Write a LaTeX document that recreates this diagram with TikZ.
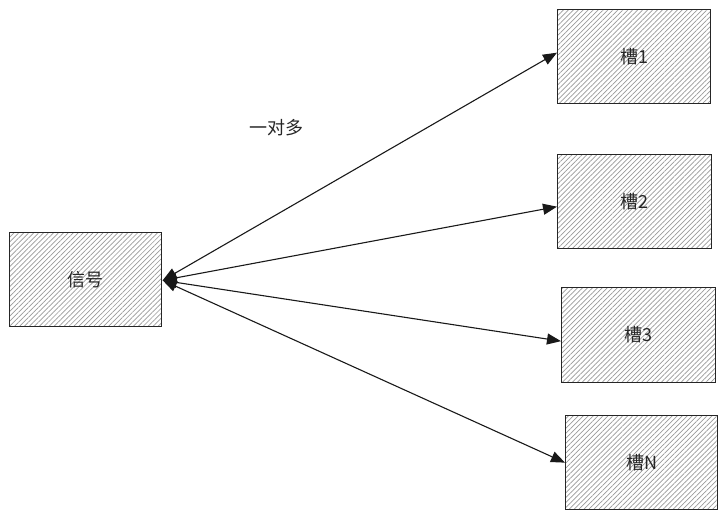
\documentclass[tikz,border=0pt]{standalone}
\usepackage{fontspec}
\newfontfamily\cjk{Noto Sans CJK SC}
\usetikzlibrary{patterns.meta,arrows.meta}
\begin{document}
\begin{tikzpicture}[x=1pt,y=-1pt,
  box/.style={draw=black!85,line width=1.3pt,pattern={Lines[angle=45,distance=3.5pt,line width=0.7pt]},pattern color=black!40,minimum width=152pt,minimum height=94pt,inner sep=0pt,anchor=north west,font=\cjk\fontsize{18}{20}\selectfont,text=black!85},
  link/.style={line width=1.1pt,black!90,{Triangle[length=14pt,width=11pt]}-{Triangle[length=14pt,width=11pt]}}]
\useasboundingbox (0,0) rectangle (726,519);
\node[box] (sig) at (9,232) {信号};
\node[box,minimum width=153pt] (s1) at (557,9) {槽1};
\node[box,minimum width=154pt] (s2) at (557,154) {槽2};
\node[box,minimum width=154pt,minimum height=95pt] (s3) at (561,287) {槽3};
\node[box] (sn) at (565,415) {槽N};
\node[font=\cjk\fontsize{18}{20}\selectfont,text=black!85] (lbl) at (276,128) {一对多};
\coordinate (o) at ([xshift=1pt,yshift=-1pt]sig.east);
\draw[link] (o) -- ([yshift=4pt]s1.west);
\draw[link] (o) -- ([yshift=-5pt]s2.west);
\draw[link] (o) -- ([yshift=-6pt]s3.west);
\draw[link] (o) -- (sn.west);
\end{tikzpicture}
\end{document}
